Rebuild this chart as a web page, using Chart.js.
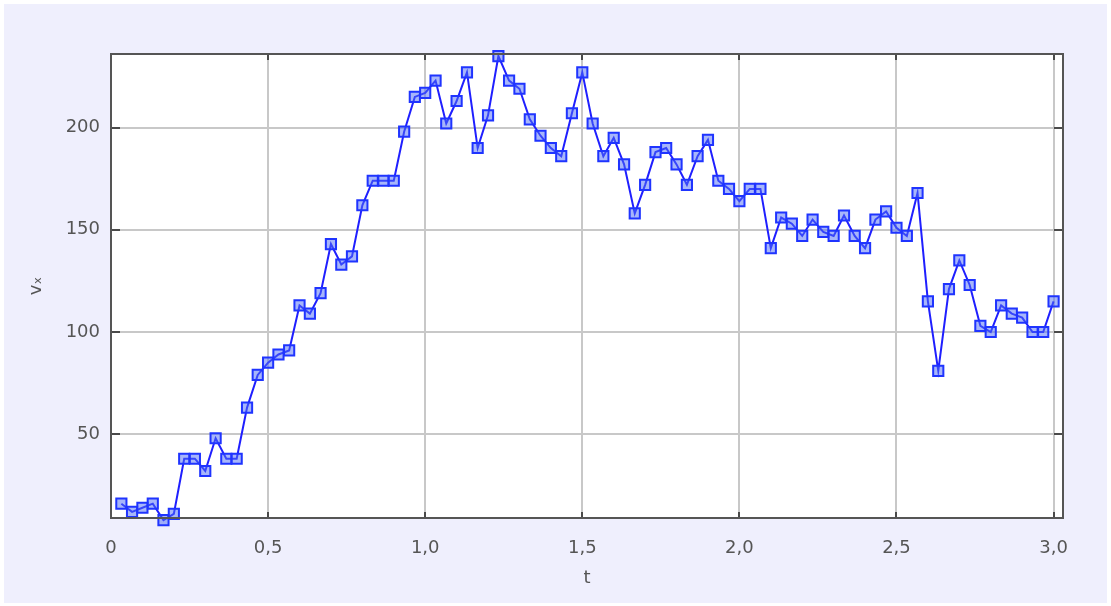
<!DOCTYPE html>
<html>
<head>
<meta charset="utf-8">
<title>vx(t)</title>
<script src="https://cdn.jsdelivr.net/npm/chart.js@4/dist/chart.umd.min.js"></script>
<style>
    body { margin: 0; background: #ffffff; }
    canvas { display: block; }
</style>
</head>
<body>
<canvas id="chart" width="1111" height="606"></canvas>
<script>
// time (s)
const tValues = [
    0.033, 0.067, 0.1, 0.133, 0.167, 0.2, 0.233, 0.267, 0.3, 0.333,
    0.367, 0.4, 0.433, 0.467, 0.5, 0.533, 0.567, 0.6, 0.633, 0.667,
    0.7, 0.733, 0.767, 0.8, 0.833, 0.867, 0.9, 0.933, 0.967, 1.0,
    1.033, 1.067, 1.1, 1.133, 1.167, 1.2, 1.233, 1.267, 1.3, 1.333,
    1.367, 1.4, 1.433, 1.467, 1.5, 1.533, 1.567, 1.6, 1.633, 1.667,
    1.7, 1.733, 1.767, 1.8, 1.833, 1.867, 1.9, 1.933, 1.967, 2.0,
    2.033, 2.067, 2.1, 2.133, 2.167, 2.2, 2.233, 2.267, 2.3, 2.333,
    2.367, 2.4, 2.433, 2.467, 2.5, 2.533, 2.567, 2.6, 2.633, 2.667,
    2.7, 2.733, 2.767, 2.8, 2.833, 2.867, 2.9, 2.933, 2.967, 3.0
];

// vx values
const vxValues = [
    16, 12, 14, 16, 8, 11, 38, 38, 32, 48,
    38, 38, 63, 79, 85, 89, 91, 113, 109, 119,
    143, 133, 137, 162, 174, 174, 174, 198, 215, 217,
    223, 202, 213, 227, 190, 206, 235, 223, 219, 204,
    196, 190, 186, 207, 227, 202, 186, 195, 182, 158,
    172, 188, 190, 182, 172, 186, 194, 174, 170, 164,
    170, 170, 141, 156, 153, 147, 155, 149, 147, 157,
    147, 141, 155, 159, 151, 147, 168, 115, 81, 121,
    135, 123, 103, 100, 113, 109, 107, 100, 100, 115
];

const xTickValues = [0, 0.5, 1.0, 1.5, 2.0, 2.5, 3.0];
const xTickLabels = ['0', '0,5', '1,0', '1,5', '2,0', '2,5', '3,0'];
const yTickValues = [50, 100, 150, 200];

const points = tValues.map((t, i) => ({ x: t, y: vxValues[i] }));

// background, white plot area, frame and the small inner tick marks
const framePlugin = {
    id: 'frame',
    beforeDraw(chart) {
        const ctx = chart.ctx;
        const a = chart.chartArea;
        ctx.save();
        ctx.fillStyle = '#ffffff';
        ctx.fillRect(0, 0, chart.width, chart.height);
        ctx.fillStyle = '#efeffd';
        ctx.fillRect(4, 4, chart.width - 8, chart.height - 7);
        ctx.fillStyle = '#ffffff';
        ctx.fillRect(a.left, a.top, a.right - a.left, a.bottom - a.top);
        ctx.restore();
    },
    afterDatasetsDraw(chart) {
        const ctx = chart.ctx;
        const a = chart.chartArea;
        const xs = chart.scales.x;
        const ys = chart.scales.y;
        ctx.save();
        ctx.strokeStyle = '#4a4a4a';
        ctx.lineWidth = 2;
        ctx.beginPath();
        xTickValues.forEach(v => {
            const px = Math.round(xs.getPixelForValue(v));
            ctx.moveTo(px, a.bottom); ctx.lineTo(px, a.bottom - 6);
            ctx.moveTo(px, a.top); ctx.lineTo(px, a.top + 6);
        });
        yTickValues.forEach(v => {
            const py = Math.round(ys.getPixelForValue(v));
            ctx.moveTo(a.left, py); ctx.lineTo(a.left + 9, py);
            ctx.moveTo(a.right, py); ctx.lineTo(a.right - 9, py);
        });
        ctx.stroke();
        ctx.strokeStyle = '#555555';
        ctx.lineWidth = 2;
        ctx.strokeRect(a.left, a.top, a.right - a.left, a.bottom - a.top);
        ctx.restore();
    }
};

const tickFont = { family: 'DejaVu Sans', size: 18 };

new Chart(document.getElementById('chart'), {
    type: 'line',
    data: {
        datasets: [
            {
                label: 'vx',
                data: points,
                borderColor: '#1f1fff',
                borderWidth: 2,
                backgroundColor: 'rgba(70,100,245,0.5)',
                pointStyle: 'rect',
                pointRadius: 7.2,
                pointBorderWidth: 2,
                pointBorderColor: '#1f34ff',
                pointBackgroundColor: 'rgba(80,110,245,0.5)',
                tension: 0,
                fill: false,
                clip: false
            }
        ]
    },
    options: {
        responsive: false,
        animation: false,
        layout: { padding: { left: 0, top: 54, right: 48, bottom: 0 } },
        plugins: {
            legend: { display: false },
            tooltip: { enabled: false }
        },
        scales: {
            x: {
                type: 'linear',
                min: 0,
                max: 3.03,
                afterBuildTicks: scale => { scale.ticks = xTickValues.map(v => ({ value: v })); },
                afterFit: scale => { scale.height = 88; },
                grid: { color: '#c8c8c8', lineWidth: 2, drawTicks: false },
                border: { display: false },
                ticks: {
                    padding: 20,
                    color: '#555555',
                    font: tickFont,
                    maxRotation: 0,
                    autoSkip: false,
                    callback: (v, i) => xTickLabels[i]
                },
                title: {
                    display: true,
                    text: 't',
                    color: '#555555',
                    font: tickFont,
                    padding: { top: 0, bottom: 17 }
                }
            },
            y: {
                min: 9,
                max: 236,
                afterBuildTicks: scale => { scale.ticks = yTickValues.map(v => ({ value: v })); },
                afterFit: scale => { scale.width = 111; },
                grid: { color: '#c8c8c8', lineWidth: 2, drawTicks: false },
                border: { display: false },
                ticks: {
                    padding: 11,
                    color: '#555555',
                    font: tickFont
                },
                title: {
                    display: true,
                    text: 'vₓ',
                    color: '#555555',
                    font: tickFont,
                    padding: { top: 26, bottom: 0 }
                }
            }
        }
    },
    plugins: [framePlugin]
});
</script>
</body>
</html>
